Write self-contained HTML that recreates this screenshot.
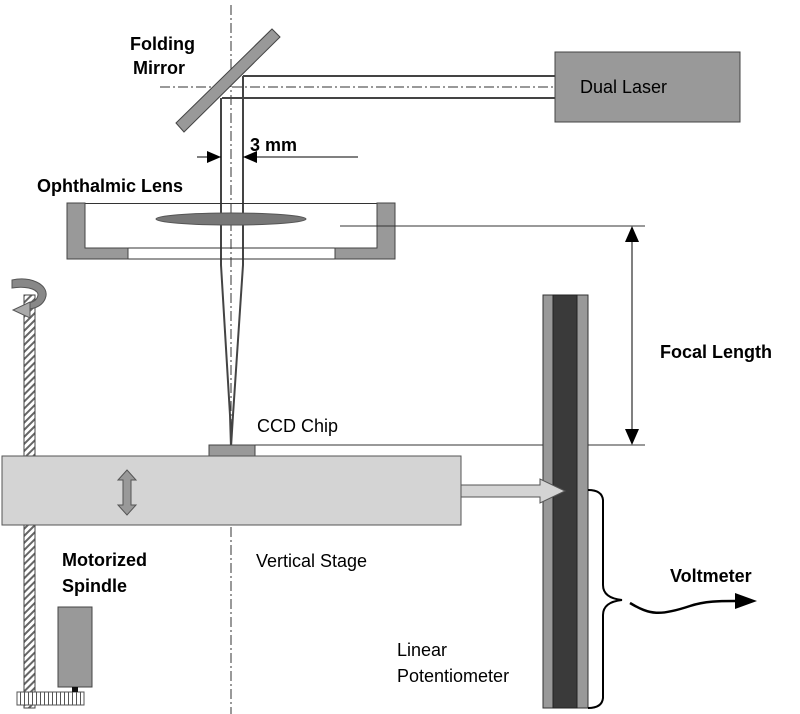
<!DOCTYPE html>
<html><head><meta charset="utf-8"><style>
html,body{margin:0;padding:0;background:#fff}
svg{display:block}
text{font-family:"Liberation Sans",sans-serif;font-size:18px;fill:#000}
</style></head><body>
<svg width="800" height="714" viewBox="0 0 800 714">
<defs>
<pattern id="h" width="5" height="5" patternUnits="userSpaceOnUse" patternTransform="rotate(45)">
<rect width="5" height="5" fill="#fff"/><rect width="2" height="5" fill="#666"/></pattern>
<pattern id="g" width="4" height="10" patternUnits="userSpaceOnUse"><rect width="4" height="10" fill="#fff"/><rect width="1" height="10" fill="#555"/></pattern>
</defs>
<line x1="231" y1="5" x2="231" y2="714" stroke="#333" stroke-width="1" stroke-dasharray="10,3,2,3"/>
<line x1="160" y1="87" x2="555" y2="87" stroke="#333" stroke-dasharray="10,3,2,3"/>
<line x1="243" y1="76" x2="555" y2="76" stroke="#444" stroke-width="2"/>
<line x1="222" y1="98" x2="555" y2="98" stroke="#444" stroke-width="2"/>
<polyline points="221,98 221,265 230,415 231,447" fill="none" stroke="#444" stroke-width="2"/>
<polyline points="243,76 243,265 233,415 231,447" fill="none" stroke="#444" stroke-width="2"/>
<polygon points="176,123 272,29 280,37 184,132" fill="#999" stroke="#444"/>
<rect x="555" y="52" width="185" height="70" fill="#999" stroke="#444"/>
<text x="580" y="93">Dual Laser</text>
<text x="130" y="50" font-weight="bold">Folding</text>
<text x="133" y="74" font-weight="bold">Mirror</text>
<line x1="197" y1="157" x2="221" y2="157" stroke="#000"/>
<polygon points="207,151 221,157 207,163"/>
<line x1="243" y1="157" x2="358" y2="157" stroke="#000"/>
<polygon points="257,151 243,157 257,163"/>
<text x="250" y="151" font-weight="bold">3 mm</text>
<text x="37" y="192" font-weight="bold">Ophthalmic Lens</text>
<rect x="67" y="203" width="328" height="1" fill="#333"/>
<line x1="85" y1="248" x2="377" y2="248" stroke="#333"/>
<line x1="128" y1="259" x2="335" y2="259" stroke="#333"/>
<path d="M67,203 H85 V248 H128 V259 H67 Z" fill="#999" stroke="#444"/>
<path d="M377,203 H395 V259 H335 V248 H377 Z" fill="#999" stroke="#444"/>
<ellipse cx="231" cy="219" rx="75" ry="6" fill="#777" stroke="#555"/>
<line x1="340" y1="226" x2="645" y2="226" stroke="#333"/>
<line x1="632" y1="230" x2="632" y2="440" stroke="#000"/>
<polygon points="625,242 632,226 639,242"/>
<polygon points="625,429 632,445 639,429"/>
<text x="660" y="358" font-weight="bold">Focal Length</text>
<line x1="255" y1="445" x2="645" y2="445" stroke="#333"/>
<rect x="209" y="445" width="46" height="11" fill="#999" stroke="#444"/>
<text x="257" y="432">CCD Chip</text>
<rect x="24" y="295" width="11" height="413" fill="url(#h)" stroke="#444"/>
<path d="M12,280 C30,276 48,284 46,296 C44,305 36,308 30,309 L28,303 C34,302 38,299 38,294 C36,288 24,286 12,288 Z" fill="#888" stroke="#555"/>
<path d="M30,302 L30,318 L13,310 Z" fill="#aaa" stroke="#555"/>
<rect x="17" y="692" width="67" height="13" fill="url(#g)" stroke="#555"/>
<rect x="58" y="607" width="34" height="80" fill="#999" stroke="#444"/>
<rect x="72" y="687" width="6" height="5" fill="#111"/>
<rect x="2" y="456" width="459" height="69" fill="#d4d4d4" stroke="#555"/>
<polygon points="127,470 136,480 131,480 131,505 136,505 127,515 118,505 123,505 123,480 118,480" fill="#999" stroke="#555"/>
<text x="62" y="566" font-weight="bold">Motorized</text>
<text x="62" y="592" font-weight="bold">Spindle</text>
<text x="256" y="567">Vertical Stage</text>
<rect x="543" y="295" width="45" height="413" fill="#999" stroke="#333"/>
<rect x="553" y="295" width="24" height="413" fill="#3a3a3a" stroke="#222"/>
<polygon points="461,485 540,485 540,479 565,491 540,503 540,497 461,497" fill="#d4d4d4" stroke="#555"/>
<path d="M588,490 Q602,490 603,500 V585 Q603,598 622,600 Q603,602 603,615 V698 Q602,708 588,708" fill="none" stroke="#000" stroke-width="2"/>
<path d="M630,603 C650,615 660,616 690,606 C705,601 720,601 735,601" fill="none" stroke="#000" stroke-width="2.5"/>
<polygon points="735,593 757,601 735,609"/>
<text x="670" y="582" font-weight="bold">Voltmeter</text>
<text x="397" y="656">Linear</text>
<text x="397" y="682">Potentiometer</text>
</svg>
</body></html>
